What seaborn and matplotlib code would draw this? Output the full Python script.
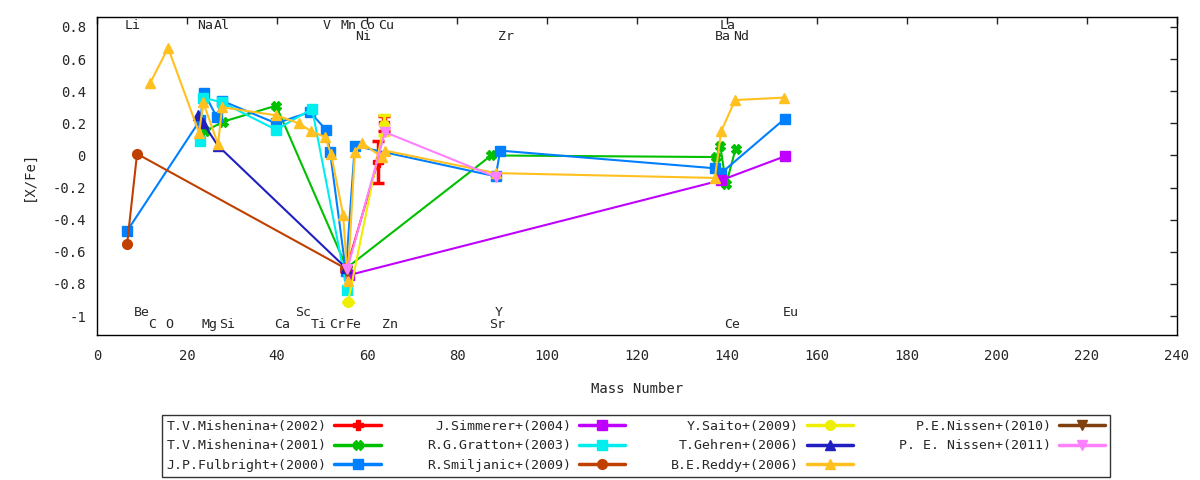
import numpy as np
import pandas as pd
import matplotlib
matplotlib.use("Agg")
import matplotlib.pyplot as plt
import seaborn as sns
from matplotlib.lines import Line2D

# series: mass number, [X/Fe], error
mish02_mass = [55.3, 62.4, 63.8]
mish02_val = [-0.72, -0.04, 0.20]
mish02_err = [0.0, 0.13, 0.045]

mish01_mass = [24.0, 28.0, 39.8, 55.5, 87.6, 137.6, 138.5, 139.8, 141.9]
mish01_val = [0.15, 0.21, 0.31, -0.70, 0.0, -0.01, 0.06, -0.18, 0.04]

fulb00_mass = [6.7, 22.9, 23.8, 26.6, 27.8, 39.8, 47.3, 50.9, 51.8, 55.3, 57.3, 88.6, 89.6, 137.3, 138.7, 152.9]
fulb00_val = [-0.47, 0.22, 0.39, 0.24, 0.34, 0.20, 0.27, 0.16, 0.02, -0.72, 0.06, -0.13, 0.03, -0.08, -0.11, 0.23]

simm04_mass = [56.0, 138.6, 152.9]
simm04_val = [-0.745, -0.155, -0.005]

grat03_mass = [22.9, 23.6, 27.8, 39.8, 47.8, 55.6]
grat03_val = [0.09, 0.36, 0.33, 0.16, 0.29, -0.84]

smil09_mass = [6.7, 8.9, 55.0]
smil09_val = [-0.55, 0.01, -0.70]

saito09_mass = [55.8, 63.8]
saito09_val = [-0.91, 0.19]
saito09_err = [0.0, 0.06]

gehr06_mass = [22.5, 23.6, 26.9, 55.3]
gehr06_val = [0.25, 0.20, 0.06, -0.70]

reddy06_mass = [11.8, 15.8, 22.7, 23.6, 26.9, 27.8, 39.8, 44.9, 47.6, 50.7, 52.0, 54.7, 55.7,
                57.3, 58.8, 63.3, 64.0, 88.6, 137.3, 138.7, 141.8, 152.6]
reddy06_val = [0.45, 0.67, 0.14, 0.33, 0.07, 0.30, 0.25, 0.20, 0.15, 0.115, 0.01, -0.37, -0.78,
               0.02, 0.08, -0.01, 0.03, -0.11, -0.14, 0.15, 0.345, 0.36]

niss10_mass = [55.5]
niss10_val = [-0.72]

niss11_mass = [55.6, 64.0, 88.7]
niss11_val = [-0.71, 0.145, -0.135]

# element labels (name, x, y)
elem_names = ["Li", "Na", "Al", "V", "Mn", "Co", "Cu", "Ni", "Zr", "La", "Ba", "Nd",
              "Be", "C", "O", "Mg", "Si", "Ca", "Sc", "Ti", "Cr", "Fe", "Zn", "Y", "Sr", "Ce", "Eu"]
elem_x = [8.0, 24.0, 27.8, 51.1, 55.8, 60.0, 64.2, 59.1, 90.9, 140.2, 139.1, 143.1,
          10.0, 12.2, 16.0, 24.9, 28.9, 41.1, 45.8, 49.3, 53.3, 56.9, 65.1, 89.3, 88.9, 141.1, 154.2]
elem_y = [0.812, 0.812, 0.812, 0.812, 0.812, 0.812, 0.812, 0.738, 0.738, 0.812, 0.738, 0.738,
          -0.976, -1.05, -1.05, -1.05, -1.05, -1.05, -0.976, -1.05, -1.05, -1.05, -1.05,
          -0.976, -1.05, -1.05, -0.976]

series = [
    ("T.V.Mishenina+(2002)", mish02_mass, mish02_val, mish02_err, "#ff0000", "P"),
    ("T.V.Mishenina+(2001)", mish01_mass, mish01_val, None, "#00c000", "X"),
    ("J.P.Fulbright+(2000)", fulb00_mass, fulb00_val, None, "#0080ff", "s"),
    ("J.Simmerer+(2004)", simm04_mass, simm04_val, None, "#c000ff", "s"),
    ("R.G.Gratton+(2003)", grat03_mass, grat03_val, None, "#00eeee", "s"),
    ("R.Smiljanic+(2009)", smil09_mass, smil09_val, None, "#c04000", "o"),
    ("Y.Saito+(2009)", saito09_mass, saito09_val, saito09_err, "#eeee00", "o"),
    ("T.Gehren+(2006)", gehr06_mass, gehr06_val, None, "#2020c0", "^"),
    ("B.E.Reddy+(2006)", reddy06_mass, reddy06_val, None, "#ffc020", "^"),
    ("P.E.Nissen+(2010)", niss10_mass, niss10_val, None, "#804010", "v"),
    ("P. E. Nissen+(2011)", niss11_mass, niss11_val, None, "#ff80ff", "v"),
]

sns.set_style("white")
plt.rcParams['font.family'] = ['DejaVu Sans Mono', 'DejaVu Sans']
plt.rcParams['font.size'] = 10

fig = plt.figure(figsize=(12, 4.8), dpi=100)
ax = fig.add_axes([97 / 1200, 1 - 335 / 480, 1080 / 1200, 318 / 480])

handles = []
for name, m, v, e, col, mk in series:
    df = pd.DataFrame({"mass": m, "val": v})
    sns.lineplot(data=df, x="mass", y="val", ax=ax, color=col, lw=1.5, sort=False,
                 estimator=None, marker=mk, markersize=7, markeredgecolor=col,
                 markeredgewidth=1, legend=False)
    if e is not None:
        ax.errorbar(m, v, yerr=e, fmt="none", ecolor=col, elinewidth=2.5, capsize=4, capthick=2.5)
    handles.append(Line2D([0], [0], color=col, lw=2.5, marker=mk, markersize=7,
                          markeredgecolor=col))

for n, x, y in zip(elem_names, elem_x, elem_y):
    ax.text(x, y, n, ha="center", va="center", fontsize=9.5)

ax.set_xlim(0, 240)
ax.set_ylim(-1.118, 0.862)
ax.set_xticks(np.arange(0, 241, 20))
ax.set_yticks(np.arange(-1.0, 0.81, 0.2))
ax.set_yticklabels(["-1", "-0.8", "-0.6", "-0.4", "-0.2", "0", "0.2", "0.4", "0.6", "0.8"])
ax.tick_params(direction="in", top=True, right=True, length=5, width=1, labelsize=10)
ax.tick_params(axis="x", pad=10)
ax.tick_params(axis="y", pad=8)
for s in ax.spines.values():
    s.set_linewidth(1)
    s.set_color("black")
ax.set_xlabel("Mass Number", fontsize=10, labelpad=14)
ax.set_ylabel("[X/Fe]", fontsize=10, labelpad=12)

labels = [s[0] for s in series]
leg = fig.legend(handles, labels, loc="center", bbox_to_anchor=(636 / 1200, 1 - 446 / 480), ncol=4,
                 markerfirst=False, frameon=True, fancybox=False, edgecolor="black",
                 handlelength=3.5, columnspacing=3.5, labelspacing=0.5, fontsize=9.5,
                 borderpad=0.35, handletextpad=0.6)
leg.get_frame().set_linewidth(1)

fig.savefig("out.png", dpi=100)
